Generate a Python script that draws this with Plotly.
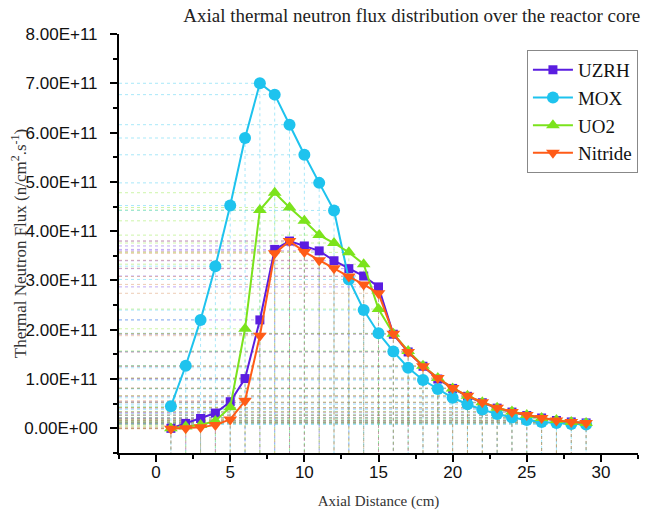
import plotly.graph_objects as go

x = list(range(1, 30))

uzrh = [0.00, 0.10, 0.20, 0.31, 0.54, 1.01, 2.20, 3.63, 3.80, 3.70, 3.60, 3.40, 3.24, 3.09, 2.87,
        1.91, 1.55, 1.26, 1.00, 0.81, 0.65, 0.52, 0.41, 0.33, 0.26, 0.21, 0.16, 0.13, 0.11]
mox = [0.45, 1.27, 2.20, 3.29, 4.52, 5.89, 7.00, 6.77, 6.16, 5.55, 4.98, 4.42, 3.02, 2.40, 1.93,
       1.56, 1.23, 0.98, 0.80, 0.62, 0.49, 0.38, 0.29, 0.22, 0.17, 0.13, 0.11, 0.09, 0.08]
uo2 = [0.00, 0.04, 0.07, 0.15, 0.43, 2.02, 4.43, 4.78, 4.48, 4.21, 3.92, 3.76, 3.57, 3.33, 2.42,
       1.92, 1.57, 1.27, 1.02, 0.81, 0.66, 0.53, 0.42, 0.34, 0.27, 0.21, 0.17, 0.13, 0.11]
nitride = [-0.01, 0.00, 0.02, 0.07, 0.18, 0.56, 1.88, 3.55, 3.80, 3.58, 3.41, 3.25, 3.08, 2.92, 2.74,
           1.92, 1.55, 1.26, 1.02, 0.82, 0.66, 0.53, 0.42, 0.33, 0.27, 0.21, 0.16, 0.13, 0.11]

scale = 1e11
y_tickvals = [0, 1, 2, 3, 4, 5, 6, 7, 8]
y_ticktext = ["0.00E+00", "1.00E+11", "2.00E+11", "3.00E+11", "4.00E+11",
              "5.00E+11", "6.00E+11", "7.00E+11", "8.00E+11"]
x_tickvals = [0, 5, 10, 15, 20, 25, 30]

x_min, x_max = -2.5, 32.5
y_min, y_max = -0.5, 8.0

series = [
    ("UZRH", uzrh, "#5a1de0", "square", 9, "rgba(90,29,224,0.38)"),
    ("MOX", mox, "#1ec3ee", "circle", 12, "rgba(30,195,238,0.38)"),
    ("UO2", uo2, "#7be31c", "triangle-up", 12, "rgba(123,227,28,0.38)"),
    ("Nitride", nitride, "#ff5b17", "triangle-down", 12, "rgba(210,120,60,0.38)"),
]

fig = go.Figure()

# drop lines
for name, vals, col, sym, sz, dcol in series:
    hx, hy, vx, vy = [], [], [], []
    for xi, v in zip(x, vals):
        yv = v * scale
        hx += [x_min, xi, None]
        hy += [yv, yv, None]
        vx += [xi, xi, None]
        vy += [yv, y_min * scale, None]
    fig.add_trace(go.Scatter(x=hx + vx, y=hy + vy, mode="lines",
                             line=dict(color=dcol, width=1, dash="dot"),
                             showlegend=False, hoverinfo="skip"))

for name, vals, col, sym, sz, dcol in series:
    fig.add_trace(go.Scatter(
        x=x, y=[v * scale for v in vals], mode="lines+markers", name=name,
        line=dict(color=col, width=2),
        marker=dict(symbol=sym, size=sz, color=col, line=dict(width=0)),
    ))

# page body has an 8px margin, so the figure is sized/offset to compensate
fig.update_layout(
    width=646, height=509,
    margin=dict(l=111, r=16, t=26, b=64),
    paper_bgcolor="white", plot_bgcolor="white",
    title=dict(text="Axial thermal neutron flux distribution over the reactor core",
               font=dict(family="Liberation Serif", size=19, color="#222"),
               x=0.625, xanchor="center", y=0.999, yanchor="top"),
    legend=dict(x=0.786, y=0.962, xanchor="left", yanchor="top",
                bordercolor="#888", borderwidth=1, bgcolor="white",
                font=dict(family="Liberation Serif", size=19, color="#111"),
                tracegroupgap=0, itemwidth=40),
    showlegend=True,
)

fig.update_xaxes(
    range=[x_min, x_max], showgrid=False, zeroline=False, automargin=False,
    showline=True, linecolor="black", linewidth=2,
    tickmode="array", tickvals=x_tickvals,
    ticks="outside", ticklen=7, tickwidth=1.5, tickcolor="black",
    minor=dict(tickmode="linear", tick0=0, dtick=2.5, ticks="outside", ticklen=4,
               tickwidth=1.5, tickcolor="black", showgrid=False),
    tickfont=dict(family="Liberation Sans", size=17, color="#111"),
    ticklabelstandoff=-4,
    title=dict(text="Axial Distance (cm)",
               font=dict(family="Liberation Serif", size=15, color="#333"), standoff=14),
)
fig.update_yaxes(
    range=[y_min * scale, y_max * scale], showgrid=False, zeroline=False, automargin=False,
    showline=True, linecolor="black", linewidth=2,
    tickmode="array", tickvals=[v * scale for v in y_tickvals], ticktext=y_ticktext,
    ticks="outside", ticklen=7, tickwidth=1.5, tickcolor="black",
    minor=dict(tickmode="linear", tick0=0, dtick=0.5 * scale, ticks="outside", ticklen=4,
               tickwidth=1.5, tickcolor="black", showgrid=False),
    tickfont=dict(family="Liberation Sans", size=17, color="#111"),
    ticklabelstandoff=9,
    title=dict(text="Thermal Neutron Flux (n/cm<sup>2</sup>.s<sup>-1</sup>)",
               font=dict(family="Liberation Serif", size=17, color="#333"), standoff=4),
)

fig.write_html("out.html")
